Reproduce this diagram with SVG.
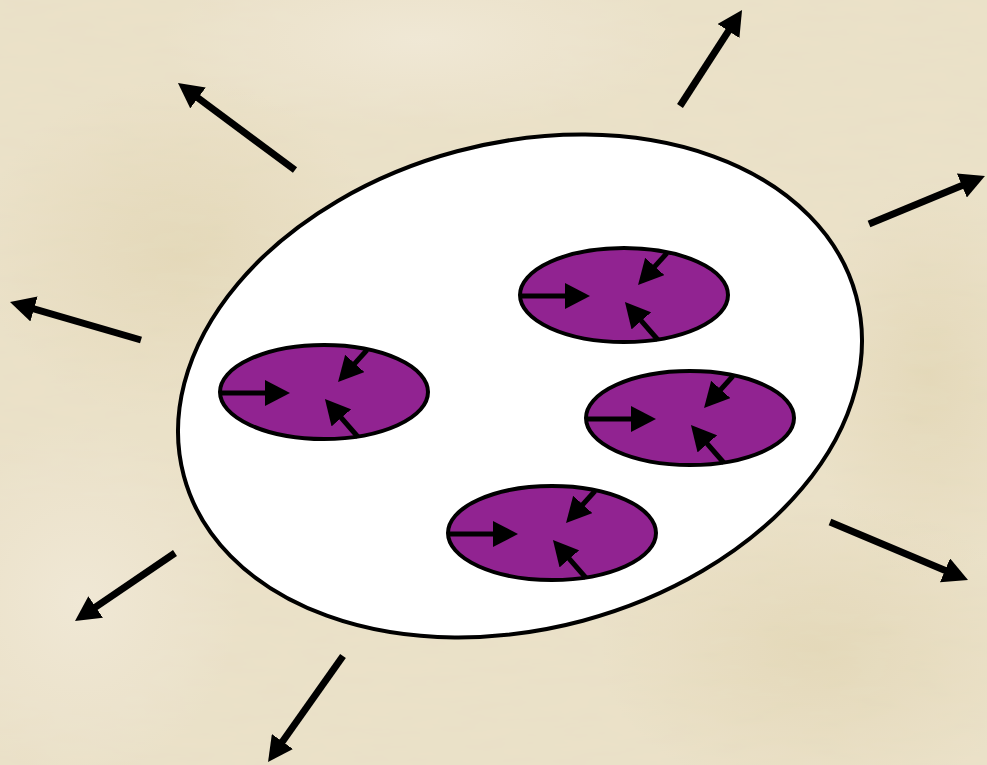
<svg xmlns="http://www.w3.org/2000/svg" width="987" height="765" viewBox="0 0 987 765">
<defs>
<marker id="ah" viewBox="0 0 25 26" refX="10" refY="13" markerWidth="25" markerHeight="26" orient="auto" markerUnits="userSpaceOnUse">
<path d="M0,0 L25,13 L0,26 Z" fill="#000"/>
</marker>
<radialGradient id="b1" cx="0.5" cy="0.5" r="0.5"><stop offset="0" stop-color="#dccfa8" stop-opacity="0.5"/><stop offset="1" stop-color="#dccfa8" stop-opacity="0"/></radialGradient>
<radialGradient id="b2" cx="0.5" cy="0.5" r="0.5"><stop offset="0" stop-color="#f2ebdb" stop-opacity="0.7"/><stop offset="1" stop-color="#f2ebdb" stop-opacity="0"/></radialGradient>
<filter id="tex" x="0" y="0" width="1" height="1">
<feTurbulence type="fractalNoise" baseFrequency="0.02 0.08" numOctaves="3" seed="4"/>
<feColorMatrix type="matrix" values="0 0 0 0 0.86  0 0 0 0 0.8  0 0 0 0 0.64  0 0 0 0.18 0"/>
</filter>
<style>
.inner{fill:#912391;stroke:#000;stroke-width:4}
.ia{fill:none;stroke:#000;stroke-width:5;marker-end:url(#ah)}
.oa{fill:none;stroke:#000;stroke-width:7;marker-end:url(#ah)}
</style>
</defs>
<rect width="987" height="765" fill="#eae0c7"/>
<ellipse cx="180" cy="250" rx="200" ry="170" fill="url(#b1)"/>
<ellipse cx="820" cy="650" rx="220" ry="150" fill="url(#b1)"/>
<ellipse cx="420" cy="40" rx="260" ry="90" fill="url(#b2)"/>
<ellipse cx="80" cy="600" rx="160" ry="180" fill="url(#b2)"/>
<ellipse cx="930" cy="380" rx="120" ry="200" fill="url(#b1)"/>
<rect width="987" height="765" filter="url(#tex)"/>
<g id="cell">
<ellipse cx="520" cy="386" rx="348" ry="243" transform="rotate(-15 520 386)" fill="#fff" stroke="#000" stroke-width="4"/>
</g>
<g id="blob1" transform="translate(324,392)">
<ellipse class="inner" cx="0" cy="0" rx="104" ry="47"/>
<path class="ia" d="M-102,1 L-49,1"/>
<path class="ia" d="M43,-42 L24.1,-21.1"/>
<path class="ia" d="M34,45 L10.8,18.3"/>
</g>
<g id="blob2" transform="translate(624,295)">
<ellipse class="inner" cx="0" cy="0" rx="104" ry="47"/>
<path class="ia" d="M-102,1 L-49,1"/>
<path class="ia" d="M43,-42 L24.1,-21.1"/>
<path class="ia" d="M34,45 L10.8,18.3"/>
</g>
<g id="blob3" transform="translate(690,418)">
<ellipse class="inner" cx="0" cy="0" rx="104" ry="47"/>
<path class="ia" d="M-102,1 L-49,1"/>
<path class="ia" d="M43,-42 L24.1,-21.1"/>
<path class="ia" d="M34,45 L10.8,18.3"/>
</g>
<g id="blob4" transform="translate(552,533)">
<ellipse class="inner" cx="0" cy="0" rx="104" ry="47"/>
<path class="ia" d="M-102,1 L-49,1"/>
<path class="ia" d="M43,-42 L24.1,-21.1"/>
<path class="ia" d="M34,45 L10.8,18.3"/>
</g>
<g id="connectors">
<path class="oa" d="M295,170 L190,92"/>
<path class="oa" d="M680,106 L733.9,22.6"/>
<path class="oa" d="M869,224 L971.1,181.7"/>
<path class="oa" d="M141,340 L24.4,306.2"/>
<path class="oa" d="M175,553 L87.4,612.6"/>
<path class="oa" d="M343,656 L276.7,749.7"/>
<path class="oa" d="M830,522 L954.2,574.2"/>
</g>
</svg>
